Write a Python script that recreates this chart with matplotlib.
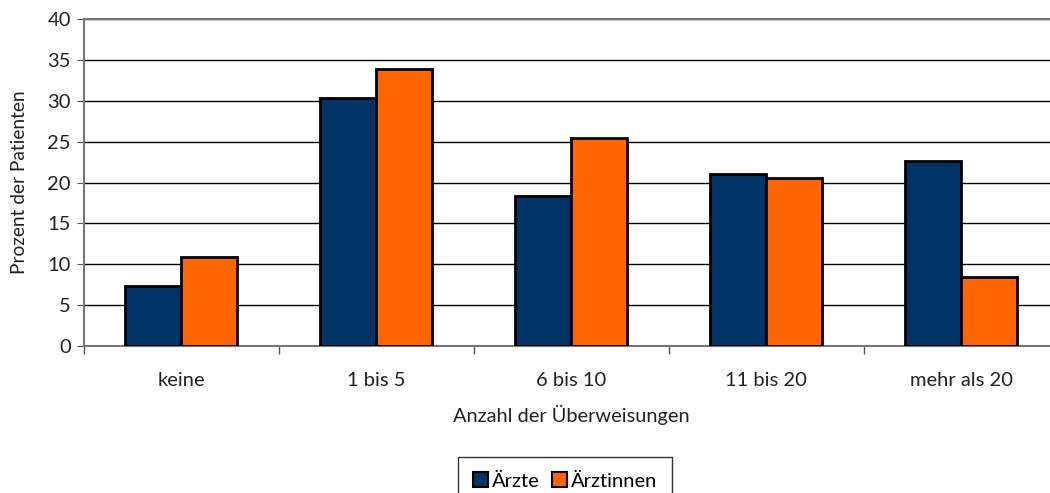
import matplotlib
matplotlib.use("Agg")
import matplotlib.pyplot as plt
import numpy as np
from matplotlib.patches import Patch

categories = ["keine", "1 bis 5", "6 bis 10", "11 bis 20", "mehr als 20"]
aerzte = [7.3, 30.3, 18.4, 21.1, 22.6]
aerztinnen = [10.9, 33.9, 25.4, 20.6, 8.5]
series_names = ["Ärzte", "Ärztinnen"]
colors = ["#003366", "#FF6600"]

plt.rcParams["font.family"] = ["Lato", "DejaVu Sans"]

W, H = 1050, 493
fig = plt.figure(figsize=(W / 100, H / 100), dpi=100)
# axes box in pixel coordinates (right edge runs slightly past the canvas)
left, right, top, bottom = 83.5, 1058.5, 19, 346
ax = fig.add_axes([left / W, 1 - bottom / H, (right - left) / W, (bottom - top) / H])

x = np.arange(len(categories))
bw = 0.288
ax.bar(x - bw / 2, aerzte, bw, color=colors[0], edgecolor="black", linewidth=2, zorder=3)
ax.bar(x + bw / 2, aerztinnen, bw, color=colors[1], edgecolor="black", linewidth=2, zorder=3)

ax.set_xlim(-0.5, len(categories) - 0.5)
ax.set_ylim(0, 40)
ax.set_yticks(np.arange(0, 41, 5))
ax.yaxis.grid(True, color="black", linewidth=1, zorder=0)
ax.set_axisbelow(True)

ax.set_xticks(x)
ax.set_xticklabels(categories, fontsize=14.5, color="#222222")
ax.tick_params(axis="x", length=0, pad=19)
ax.set_xticks(np.arange(-0.5, len(categories), 1), minor=True)
ax.tick_params(axis="x", which="minor", length=6, color="#555555", width=1)
ax.tick_params(axis="y", length=5, color="#555555", labelsize=14.5, pad=4, labelcolor="#222222")

for s in ["left", "bottom", "top"]:
    ax.spines[s].set_color("#777777")
    ax.spines[s].set_linewidth(1.5)
ax.spines["right"].set_visible(False)

ax.set_ylabel("Prozent der Patienten", fontsize=13.8, color="#222222", labelpad=14)
ax.set_xlabel("Anzahl der Überweisungen", fontsize=14.4, color="#222222", labelpad=11)

handles = [Patch(facecolor=c, edgecolor="black", linewidth=1.5) for c in colors]
leg = fig.legend(handles, series_names, loc="upper center", bbox_to_anchor=(565 / W, 1 - 457 / H),
                 ncol=2, fontsize=14.5, frameon=True, fancybox=False, edgecolor="black",
                 handlelength=0.75, handleheight=0.75, handletextpad=0.2, columnspacing=0.6,
                 borderpad=0.75, borderaxespad=0)
leg.get_frame().set_linewidth(1)

fig.savefig("out.png", dpi=100, facecolor="white")
